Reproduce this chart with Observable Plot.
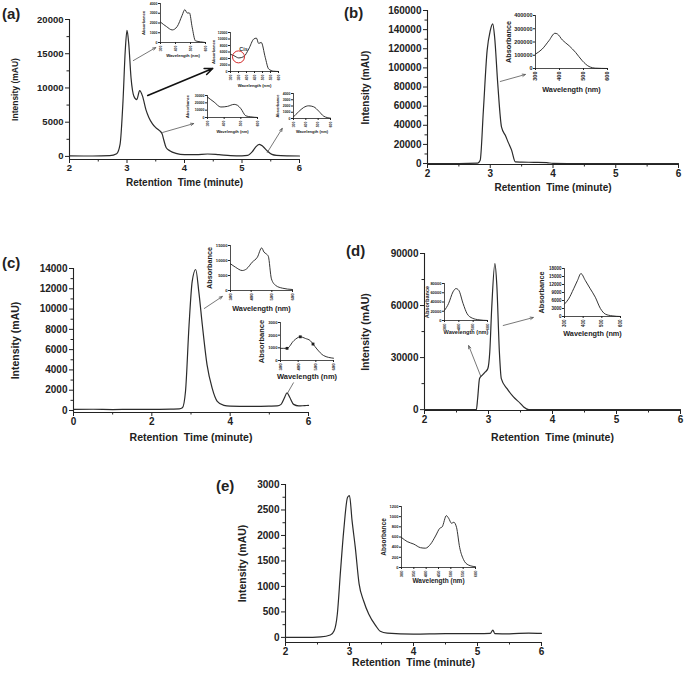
<!DOCTYPE html>
<html><head><meta charset="utf-8">
<script src="https://cdn.jsdelivr.net/npm/d3@7"></script>
<script src="https://cdn.jsdelivr.net/npm/@observablehq/plot@0.6"></script>
<style>
body{margin:0;background:#fff;}
#fig{position:relative;width:685px;height:673px;overflow:hidden;font-family:"Liberation Sans",Arial,Helvetica,sans-serif;color:#222;background:#fff;}
.lab{position:absolute;font-weight:bold;font-size:15px;line-height:1;}
#fig svg{position:absolute;}
</style></head><body><div id="fig"></div>
<script>
// ---------- chromatogram data (retention time, minute / intensity, mAU) ----------
const aTime = [2,2.4,2.7,2.82,2.88,2.93,2.97,3.0,3.03,3.07,3.12,3.17,3.22,3.27,3.33,3.38,3.44,3.5,3.56,3.61,3.64,3.68,3.75,3.85,4.0,4.2,4.4,4.6,4.8,5.0,5.1,5.18,5.24,5.3,5.36,5.44,5.52,5.6,5.8,6.0];
const aInt  = [80,60,120,400,1800,8000,15500,18400,16500,11500,8800,8300,9600,8800,6800,5700,4800,4200,3800,3300,2400,1300,800,450,250,250,350,250,120,80,150,700,1400,1750,1500,800,300,150,80,60];
const bTime = [2,2.5,2.8,2.84,2.89,2.95,3.0,3.04,3.07,3.12,3.18,3.24,3.29,3.34,3.4,3.5,3.7,3.9,4.0,4.5,5,6];
const bInt  = [0,0,500,3500,55000,118000,139000,146000,132000,83000,38000,29500,21600,14000,1700,1500,1300,1000,100,0,0,0];
const cTime = [0,0.5,1,1.5,2,2.5,2.7,2.78,2.86,2.95,3.03,3.12,3.2,3.29,3.41,3.54,3.67,3.84,4.0,4.5,5.0,5.2,5.3,5.38,5.45,5.52,5.62,5.75,5.9,6.0];
const cInt  = [100,120,90,110,100,130,150,260,1900,8400,12700,13900,11700,8400,4500,2200,900,500,430,400,430,450,600,1200,1730,1300,600,450,480,500];
const dTime = [2,2.5,2.81,2.83,2.86,2.9,2.95,2.99,3.02,3.05,3.1,3.13,3.17,3.2,3.29,3.39,3.5,3.55,3.63,4,5,6];
const dInt  = [0,0,0,6300,17900,19800,21700,23700,33300,58300,84200,71700,33300,17900,12100,7300,3500,1500,0,0,0,0];
const eTime = [2,2.3,2.55,2.7,2.76,2.81,2.86,2.91,2.97,3.0,3.04,3.09,3.15,3.22,3.3,3.41,3.48,3.59,4.0,4.5,5.0,5.2,5.24,5.27,5.5,5.8,6.0];
const eInt  = [0,0,10,46,130,460,1310,2100,2750,2780,2290,1770,1050,720,460,230,120,85,65,75,75,80,144,75,70,85,80];

// ---------- inset spectra (wavelength, nm / absorbance) ----------
const a1W = [300,340,378,411,444,462,478,493,511,533,567,600];
const a1A = [2090,1630,1290,1630,2780,3370,3030,3030,1570,170,70,0];
const a2W = [300,321,352,383,414,445,462,476,492,517,538,569,600];
const a2A = [5300,4880,4170,4580,6920,9970,10270,8640,8950,4370,810,100,0];
const a3W = [300,340,380,420,460,480,500,530,560,600];
const a3A = [27800,21000,14300,15200,17900,16600,12100,2240,900,0];
const a4W = [300,341,382,423,464,505,545,600];
const a4A = [270,1070,1760,2030,1870,1170,370,50];
const bW  = [300,328,356,381,391,412,440,467,495,523,551,600];
const bA  = [108900,146900,210000,265800,260800,215000,172000,121500,58200,15200,2500,0];
const c1W = [300,324,357,378,405,430,451,462,473,483,498,519,551,600];
const c1A = [8900,7770,6660,7220,9440,11100,14200,12800,12200,11400,3890,1670,780,330];
const c2W = [300,337,375,412,441,469,484,506,544,600];
const c2A = [960,960,1560,1870,1740,1560,1300,910,390,180];
const c2MarkW = [337,412,484];
const c2MarkA = [960,1870,1300];
const d1W = [300,328,359,380,399,430,458,494,541,600];
const d1A = [21800,36400,61800,69000,65500,36400,14500,5100,1450,0];
const d2W = [300,322,349,370,388,411,438,465,492,519,555,600];
const d2A = [4690,6590,10400,13570,16100,13570,10400,7230,3040,890,250,0];
const eW  = [300,323,350,377,397,418,438,455,465,482,491,503,512,523,536,551,571,600];
const eA  = [590,510,460,390,380,460,620,770,800,1020,970,870,890,790,390,160,50,15];

// ---------- annotations (data units of each main panel) ----------
const aArrows = [[3.11,14000,3.50,15900],[3.62,3500,4.16,4800],[5.44,580,5.70,4090]];
const aBoldArrow = [[3.36,8900,4.49,12850]];
const bArrows = [[3.16,85800,3.56,93100]];
const cArrows = [[3.34,10060,3.80,11240]];
const cLinks = [[5.46,1680,5.62,2760]];
const dArrows = [[2.875,19600,2.69,36900],[3.23,48500,3.70,53100]];
const cisW = [350], cisA = [4500];
const cisLabelW = [382], cisLabelA = [6700];

// ---------- ticks ----------
const timeTicks = [2,3,4,5,6];
const timeMinor = [2.5,3.5,4.5,5.5];
const cTimeTicks = [0,2,4,6];
const cTimeMinor = [1,3,5];
const waveTicks = [300,400,500,600];
const waveTicks50 = [300,350,400,450,500,550,600];
const xTitle = "Retention  Time (minute)";
const yTitle = "Intensity (mAU)";

const FONT = '"Liberation Sans", Arial, Helvetica, sans-serif';
const fig = document.getElementById("fig");
const fmt = d => String(d);
const range = (a, b, s) => d3.range(a, b + s / 2, s);

function place(svg, left, top) {
  svg.style.left = left + "px";
  svg.style.top = top + "px";
  fig.appendChild(svg);
}
function label(txt, left, top) {
  const d = document.createElement("div");
  d.className = "lab"; d.textContent = txt;
  d.style.left = left + "px"; d.style.top = top + "px";
  fig.appendChild(d);
}
const arrowMark = (arr, opts) => Plot.arrow(arr, {x1: d => d[0], y1: d => d[1], x2: d => d[2], y2: d => d[3], headLength: 6, headAngle: 45, ...opts});

function mainPanel(c) {
  const data = c.time.map((t, i) => ({t, v: c.inten[i]}));
  const svg = Plot.plot({
    width: c.box[2], height: c.box[3],
    marginLeft: c.m[0], marginTop: c.m[1], marginRight: c.m[2], marginBottom: c.m[3],
    x: {domain: c.xDomain}, y: {domain: c.yDomain},
    style: {fontFamily: FONT, fontWeight: "bold", fontSize: c.tick + "px", color: "#222", background: "transparent", overflow: "visible"},
    marks: [
      Plot.ruleX([c.xDomain[0]], {stroke: "#222", strokeWidth: 1.1}),
      Plot.ruleY([c.yDomain[0]], {stroke: "#222", strokeWidth: 1.1}),
      Plot.axisX(c.xTicks, {tickSize: 4, tickPadding: 1, tickFormat: fmt, label: null, fontSize: c.tick, fontWeight: "bold"}),
      Plot.axisX(c.xMinor, {tickSize: 2.5, tickFormat: () => "", label: null}),
      Plot.axisY(c.yTicks, {tickSize: 4, tickPadding: 2, tickFormat: fmt, label: null, fontSize: c.tick, fontWeight: "bold"}),
      Plot.axisY(c.yMinor, {tickSize: 2.5, tickFormat: () => "", label: null}),
      Plot.line(data, {x: "t", y: "v", stroke: "#2b2b2b", strokeWidth: 1.2, curve: "monotone-x"}),
      Plot.text([xTitle], {frameAnchor: "bottom", text: d => d, dy: c.xDy, lineAnchor: "middle", textAnchor: "middle", fontSize: c.title, fontWeight: "bold", fill: "#222"}),
      Plot.text([yTitle], {frameAnchor: "left", text: d => d, rotate: -90, dx: c.yDx, lineAnchor: "middle", textAnchor: "middle", fontSize: c.yTitle || c.title, fontWeight: "bold", fill: "#222"}),
      ...(c.extra || [])
    ]
  });
  place(svg, c.box[0], c.box[1]);
}

function inset(c) {
  const ml = 34, mr = 6, mt = 6, mb = 28;
  const [x0, x1, yT, yB] = c.box;
  const data = c.w.map((w, i) => ({w, a: c.a[i]}));
  const svg = Plot.plot({
    width: ml + (x1 - x0) + mr, height: mt + (yB - yT) + mb,
    marginLeft: ml, marginRight: mr, marginTop: mt, marginBottom: mb,
    x: {domain: [300, 600]}, y: {domain: [0, c.yMax]},
    style: {fontFamily: FONT, fontWeight: "bold", fontSize: c.tick + "px", color: "#222", background: "transparent", overflow: "visible"},
    marks: [
      Plot.ruleX([300], {stroke: "#222", strokeWidth: 0.8}),
      Plot.ruleY([0], {stroke: "#222", strokeWidth: 0.8}),
      Plot.axisX(c.xTicks, {tickSize: 2, tickFormat: () => "", label: null}),
      Plot.text(c.xTicks, {x: d => d, frameAnchor: "bottom", text: fmt, rotate: -90, textAnchor: "end", lineAnchor: "middle", dy: 3, fontSize: c.tick, fontWeight: "bold", fill: "#222"}),
      Plot.axisY(c.yTicks, {tickSize: 2, tickPadding: 1, tickFormat: fmt, label: null, fontSize: c.tick, fontWeight: "bold"}),
      Plot.line(data, {x: "w", y: "a", stroke: "#1e1e1e", strokeWidth: 0.9, curve: "monotone-x"}),
      Plot.text(["Wavelength (nm)"], {frameAnchor: "bottom", text: d => d, dy: c.wDy, lineAnchor: "middle", textAnchor: "middle", fontSize: c.title, fontWeight: "bold", fill: "#222"}),
      Plot.text(["Absorbance"], {frameAnchor: "left", text: d => d, rotate: -90, dx: c.aDx, lineAnchor: "middle", textAnchor: "middle", fontSize: c.title, fontWeight: "bold", fill: "#222"}),
      ...(c.extra || [])
    ]
  });
  place(svg, x0 - ml, yT - mt);
}

// ---------- (a) ----------
mainPanel({box: [0, 0, 340, 200], m: [69, 19, 41, 41], xDomain: [2, 6], yDomain: [-450, 20000],
  xTicks: timeTicks, xMinor: timeMinor, yTicks: range(0, 20000, 5000), yMinor: range(2500, 17500, 5000),
  time: aTime, inten: aInt, tick: 9.5, title: 10, yTitle: 8.5, xDy: 23, yDx: -54,
  extra: [arrowMark(aArrows, {stroke: "#555", strokeWidth: 0.8}), arrowMark(aBoldArrow, {stroke: "#111", strokeWidth: 1.6, headLength: 8})]});
inset({box: [160, 205, 3, 42], w: a1W, a: a1A, yMax: 4000, xTicks: waveTicks, yTicks: range(0, 4000, 1000), tick: 3.5, title: 4.2, wDy: 13, aDx: -17});
inset({box: [230, 278, 32, 71], w: a2W, a: a2A, yMax: 12000, xTicks: waveTicks50, yTicks: range(0, 12000, 2000), tick: 3.5, title: 4.2, wDy: 14, aDx: -17,
  extra: [Plot.dot(cisW.map((w, i) => ({w, a: cisA[i]})), {x: "w", y: "a", r: 6, stroke: "#d42a2a", strokeWidth: 1, fill: "none"}),
          Plot.text(cisLabelW.map((w, i) => ({w, a: cisLabelA[i]})), {x: "w", y: "a", text: () => "Cis", fontSize: 5.5, fontWeight: "bold", fill: "#333"})]});
inset({box: [207, 257, 95, 117], w: a3W, a: a3A, yMax: 30000, xTicks: waveTicks, yTicks: range(0, 30000, 10000), tick: 3.5, title: 4, wDy: 14, aDx: -20});
inset({box: [293, 330, 93, 118], w: a4W, a: a4A, yMax: 4000, xTicks: waveTicks, yTicks: range(0, 4000, 1000), tick: 3.5, title: 4, wDy: 13, aDx: -16});

// ---------- (b) ----------
mainPanel({box: [340, 0, 345, 200], m: [87, 10, 7, 36], xDomain: [2, 6], yDomain: [-1000, 160000],
  xTicks: timeTicks, xMinor: timeMinor, yTicks: range(0, 160000, 20000), yMinor: range(10000, 150000, 20000),
  time: bTime, inten: bInt, tick: 10, title: 10, xDy: 23, yDx: -62,
  extra: [arrowMark(bArrows, {stroke: "#555", strokeWidth: 0.8})]});
inset({box: [535, 607, 15, 68], w: bW, a: bA, yMax: 400000, xTicks: waveTicks, yTicks: range(0, 400000, 100000), tick: 5.5, title: 7.3, wDy: 21, aDx: -27});

// ---------- (c) ----------
mainPanel({box: [0, 225, 340, 220], m: [73, 43, 32, 33], xDomain: [0, 6], yDomain: [-200, 14000],
  xTicks: cTimeTicks, xMinor: cTimeMinor, yTicks: range(0, 14000, 2000), yMinor: range(1000, 13000, 2000),
  time: cTime, inten: cInt, tick: 10, title: 10.5, xDy: 25, yDx: -58,
  extra: [arrowMark(cArrows, {stroke: "#555", strokeWidth: 0.8}),
          Plot.link(cLinks, {x1: d => d[0], y1: d => d[1], x2: d => d[2], y2: d => d[3], stroke: "#555", strokeWidth: 0.8})]});
inset({box: [230, 292, 245, 290], w: c1W, a: c1A, yMax: 15000, xTicks: waveTicks, yTicks: range(0, 15000, 5000), tick: 4.2, title: 7.3, wDy: 18, aDx: -21});
inset({box: [280, 333, 322, 360], w: c2W, a: c2A, yMax: 3000, xTicks: waveTicks, yTicks: range(0, 3000, 1000), tick: 4.2, title: 7.5, wDy: 16, aDx: -19,
  extra: [Plot.dot(c2MarkW.map((w, i) => ({w, a: c2MarkA[i]})), {x: "w", y: "a", symbol: "square", r: 1.6, fill: "#1e1e1e"})]});

// ---------- (d) ----------
mainPanel({box: [340, 225, 345, 220], m: [84, 28, 5, 35], xDomain: [2, 6], yDomain: [-500, 90000],
  xTicks: timeTicks, xMinor: timeMinor, yTicks: range(0, 90000, 30000), yMinor: range(15000, 75000, 30000),
  time: dTime, inten: dInt, tick: 10, title: 10.5, xDy: 27, yDx: -59,
  extra: [arrowMark(dArrows, {stroke: "#555", strokeWidth: 0.8})]});
inset({box: [444, 487, 283, 320], w: d1W, a: d1A, yMax: 80000, xTicks: waveTicks, yTicks: range(0, 80000, 20000), tick: 4, title: 5.6, wDy: 12, aDx: -17});
inset({box: [564, 620, 268, 316], w: d2W, a: d2A, yMax: 18000, xTicks: waveTicks, yTicks: range(0, 18000, 3000), tick: 4.5, title: 7.3, wDy: 17, aDx: -23});

// ---------- (e) ----------
mainPanel({box: [210, 460, 340, 213], m: [75, 24, 9, 31], xDomain: [2, 6], yDomain: [-100, 3000],
  xTicks: timeTicks, xMinor: timeMinor, yTicks: range(0, 3000, 500), yMinor: range(250, 2750, 500),
  time: eTime, inten: eInt, tick: 10, title: 10.5, xDy: 20, yDx: -43});
inset({box: [401, 475, 506, 567], w: eW, a: eA, yMax: 1200, xTicks: waveTicks50, yTicks: range(0, 1200, 200), tick: 4, title: 6.5, wDy: 13, aDx: -18});

// ---------- panel letters ----------
label("(a)", 2, 6);
label("(b)", 344, 5);
label("(c)", 2, 255);
label("(d)", 346, 243);
label("(e)", 216, 478);
</script></body></html>
